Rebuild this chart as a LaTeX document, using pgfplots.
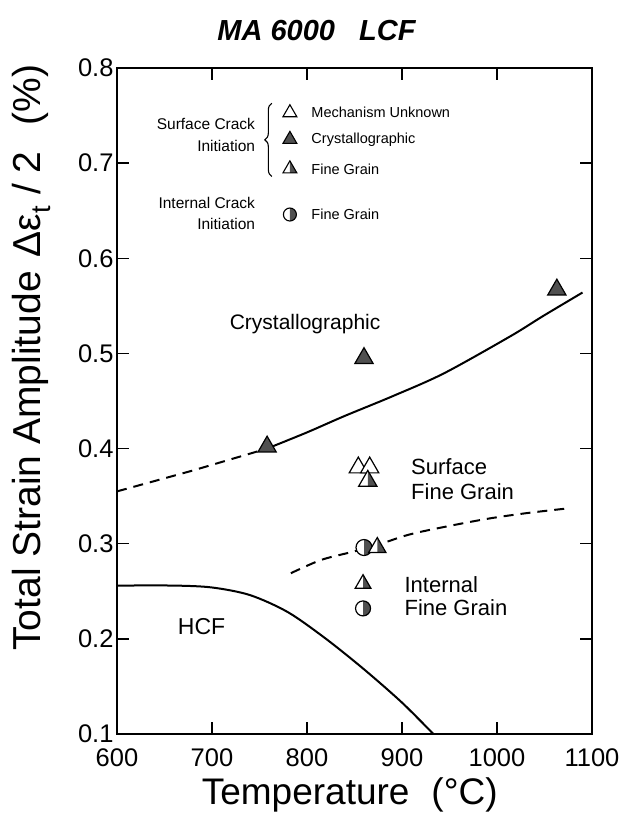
\documentclass[border=0pt]{standalone}
\usepackage{pgfplots}
\pgfplotsset{compat=1.18}
\usepackage{fontspec}
\setmainfont{Liberation Sans}
\usetikzlibrary{decorations.pathreplacing}
\definecolor{mdark}{HTML}{505050}

\pgfdeclareplotmark{otri}{%
  \pgfsetstrokecolor{black}\pgfsetfillcolor{white}%
  \pgfpathmoveto{\pgfqpointpolar{90}{\pgfplotmarksize}}%
  \pgfpathlineto{\pgfqpointpolar{210}{\pgfplotmarksize}}%
  \pgfpathlineto{\pgfqpointpolar{330}{\pgfplotmarksize}}%
  \pgfpathclose
  \pgfusepath{fill,stroke}}
\pgfdeclareplotmark{ftri}{%
  \pgfsetstrokecolor{black}\pgfsetfillcolor{mdark}%
  \pgfpathmoveto{\pgfqpointpolar{90}{\pgfplotmarksize}}%
  \pgfpathlineto{\pgfqpointpolar{210}{\pgfplotmarksize}}%
  \pgfpathlineto{\pgfqpointpolar{330}{\pgfplotmarksize}}%
  \pgfpathclose
  \pgfusepath{fill,stroke}}
\pgfdeclareplotmark{htri}{%
  \pgfsetstrokecolor{black}\pgfsetfillcolor{white}%
  \pgfpathmoveto{\pgfqpointpolar{90}{\pgfplotmarksize}}%
  \pgfpathlineto{\pgfqpointpolar{210}{\pgfplotmarksize}}%
  \pgfpathlineto{\pgfqpointpolar{330}{\pgfplotmarksize}}%
  \pgfpathclose
  \pgfusepath{fill}%
  \pgfsetfillcolor{mdark}%
  \pgfpathmoveto{\pgfqpointpolar{90}{\pgfplotmarksize}}%
  \pgfpathlineto{\pgfqpointpolar{330}{\pgfplotmarksize}}%
  \pgfpathlineto{\pgfqpoint{0pt}{-0.5\pgfplotmarksize}}%
  \pgfpathclose
  \pgfusepath{fill}%
  \pgfpathmoveto{\pgfqpointpolar{90}{\pgfplotmarksize}}%
  \pgfpathlineto{\pgfqpointpolar{210}{\pgfplotmarksize}}%
  \pgfpathlineto{\pgfqpointpolar{330}{\pgfplotmarksize}}%
  \pgfpathclose
  \pgfusepath{stroke}}
\pgfdeclareplotmark{hcirc}{%
  \pgfsetstrokecolor{black}\pgfsetfillcolor{white}%
  \pgfpathcircle{\pgfpointorigin}{\pgfplotmarksize}%
  \pgfusepath{fill}%
  \pgfsetfillcolor{mdark}%
  \pgfpathmoveto{\pgfqpoint{0pt}{\pgfplotmarksize}}%
  \pgfpatharc{90}{-90}{\pgfplotmarksize}%
  \pgfpathclose
  \pgfusepath{fill}%
  \pgfpathcircle{\pgfpointorigin}{\pgfplotmarksize}%
  \pgfusepath{stroke}}

\begin{document}
\begin{tikzpicture}
\begin{axis}[
  name=ax,
  scale only axis,
  width=475pt, height=666pt,
  xmin=600, xmax=1100, ymin=0.1, ymax=0.8,
  xtick={600,700,...,1100},
  ytick={0.1,0.2,...,0.8},
  tick align=inside,
  major tick length=12pt,
  axis line style={line width=1.3pt},
  every tick/.style={line width=1.3pt, black},
  /pgf/number format/assume math mode=true,
  yticklabel style={/pgf/number format/fixed, /pgf/number format/fixed zerofill, /pgf/number format/precision=1},
  xticklabel style={/pgf/number format/1000 sep={}, yshift=-11pt},
  tick label style={font=\fontsize{25.5}{30}\selectfont},
  clip=false,
]
% curves
\addplot[line width=2pt, smooth] coordinates {
 (758,0.400) (800,0.417) (839,0.434) (890,0.455) (944,0.479) (1014,0.518) (1048,0.539) (1090,0.564)};
\addplot[line width=2pt, dash pattern=on 10pt off 7pt] coordinates {
 (600,0.355) (680,0.377) (758,0.400)};
\addplot[line width=2pt, smooth, dash pattern=on 10pt off 7pt] coordinates {
 (783,0.269) (815,0.283) (850,0.292) (878,0.300) (913,0.311) (983,0.325) (1030,0.332) (1078,0.3375)};
\addplot[line width=2pt, smooth] coordinates {
 (600,0.256) (660,0.256) (700,0.254) (740,0.246) (780,0.228) (820,0.200) (860,0.168) (900,0.133) (933,0.100)};
% data points
\addplot[only marks, mark=ftri, mark size=10.5pt, line width=1.2pt] coordinates {(758,0.402) (860,0.495) (1063,0.567)};
\addplot[only marks, mark=otri, mark size=10.5pt, line width=1.2pt] coordinates {(854,0.380) (866,0.380)};
\addplot[only marks, mark=htri, mark size=10.5pt, line width=1.2pt] coordinates {(864,0.366)};
\addplot[only marks, mark=hcirc, mark size=8pt, line width=1.2pt] coordinates {(860,0.296)};
\addplot[only marks, mark=htri, mark size=10pt, line width=1.2pt] coordinates {(874,0.296)};
% in-plot keys
\addplot[only marks, mark=htri, mark size=9pt, line width=1.2pt] coordinates {(859,0.258)};
\addplot[only marks, mark=hcirc, mark size=7.5pt, line width=1.2pt] coordinates {(859,0.232)};
% legend markers
\addplot[only marks, mark=otri, mark size=8pt, line width=1.1pt] coordinates {(782,0.753)};
\addplot[only marks, mark=ftri, mark size=8pt, line width=1.1pt] coordinates {(782,0.725)};
\addplot[only marks, mark=htri, mark size=8pt, line width=1.1pt] coordinates {(782,0.694)};
\addplot[only marks, mark=hcirc, mark size=6.5pt, line width=1.1pt] coordinates {(782,0.646)};

% labels in plot
\node[font=\fontsize{21}{25}\selectfont] at (axis cs:798,0.531) {Crystallographic};
\node[font=\fontsize{22}{26}\selectfont, anchor=west] at (axis cs:906,0.381) {Surface};
\node[font=\fontsize{22}{26}\selectfont, anchor=west] at (axis cs:906,0.355) {Fine Grain};
\node[font=\fontsize{22}{26}\selectfont, anchor=west] at (axis cs:899,0.257) {Internal};
\node[font=\fontsize{22}{26}\selectfont, anchor=west] at (axis cs:899,0.233) {Fine Grain};
\node[font=\fontsize{23}{27}\selectfont] at (axis cs:689,0.213) {HCF};

% legend texts
\node[font=\fontsize{14.5}{17}\selectfont, anchor=west] at (axis cs:801,0.753) {Mechanism Unknown};
\node[font=\fontsize{14.5}{17}\selectfont, anchor=west] at (axis cs:801,0.725) {Crystallographic};
\node[font=\fontsize{14.5}{17}\selectfont, anchor=west] at (axis cs:801,0.694) {Fine Grain};
\node[font=\fontsize{14.5}{17}\selectfont, anchor=west] at (axis cs:801,0.646) {Fine Grain};
\node[font=\fontsize{15.5}{17}\selectfont, anchor=east] at (axis cs:749,0.741) {Surface Crack};
\node[font=\fontsize{15.5}{17}\selectfont, anchor=east] at (axis cs:749,0.718) {Initiation};
\node[font=\fontsize{15.5}{17}\selectfont, anchor=east] at (axis cs:749,0.658) {Internal Crack};
\node[font=\fontsize{15.5}{17}\selectfont, anchor=east] at (axis cs:749,0.636) {Initiation};
\draw[line width=1.1pt, decorate, decoration={brace, amplitude=7pt}] (axis cs:763,0.686) -- (axis cs:763,0.763);

% titles
\node[font=\fontsize{29}{34}\selectfont\bfseries\itshape] at (axis description cs:0.42,1.057) {MA 6000\hspace{24pt}LCF};
\node[font=\fontsize{37}{42}\selectfont] at (axis description cs:0.49,-0.092) {Temperature\hspace{22pt}(°C)};
\node[font=\fontsize{39}{44}\selectfont, rotate=90] at (axis description cs:-0.180,0.565) {Total Strain Amplitude\hspace{14pt}Δε\textsubscript{t} / 2\hspace{26pt}(\%)};
\end{axis}
\pgfresetboundingbox
\useasboundingbox (ax.south west) ++(-117pt,-93pt) rectangle ++(629pt,827pt);
\end{tikzpicture}
\end{document}
